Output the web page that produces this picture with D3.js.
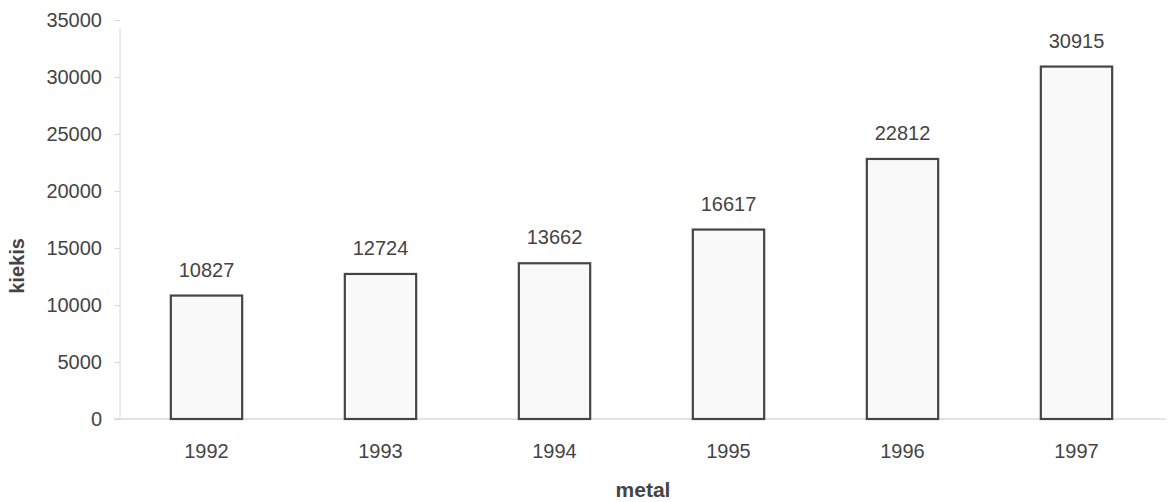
<!DOCTYPE html>
<html><head><meta charset="utf-8">
<script src="https://cdn.jsdelivr.net/npm/d3@7"></script>
<style>body{margin:0;background:#fff;} text{font-family:Arial,"Liberation Sans",sans-serif;}</style>
</head><body><svg id="c" width="1171" height="502"></svg>
<script>
const categories = ["1992","1993","1994","1995","1996","1997"];
const values = [10827,12724,13662,16617,22812,30915];
const yTicks = [0,5000,10000,15000,20000,25000,30000,35000];

const svg = d3.select("#c");
const FONT = "Arial, 'Liberation Sans', sans-serif";
const x = d3.scaleBand().domain(categories).range([119.5,1163.5]).paddingInner(0.59).paddingOuter(0.295);
const y = d3.scaleLinear().domain([0,35000]).range([419,20]);

// axes lines
svg.append("line").attr("x1",120).attr("x2",120).attr("y1",y(35000)+8).attr("y2",y(0)).attr("stroke","#d8d8d8");
svg.append("line").attr("x1",114).attr("x2",1166).attr("y1",y(0)).attr("y2",y(0)).attr("stroke","#c8c8c8");

const yAxis = d3.axisLeft(y).tickValues(yTicks).tickSize(6).tickPadding(12).tickFormat(d=>d);
const ga = svg.append("g").attr("transform","translate(120,0)").call(yAxis);
ga.select(".domain").remove();
ga.selectAll(".tick line").attr("stroke","#d8d8d8");
ga.selectAll(".tick text").attr("font-size",20).attr("fill","#444").attr("font-family",FONT);

const xAxis = d3.axisBottom(x).tickSize(0).tickPadding(25);
const gx = svg.append("g").attr("transform",`translate(0,${y(0)})`).call(xAxis);
gx.select(".domain").remove();
gx.selectAll(".tick text").attr("font-size",20).attr("fill","#444").attr("font-family",FONT);

svg.selectAll("rect.bar").data(values).enter().append("rect").attr("class","bar")
  .attr("x",(d,i)=>x(categories[i])).attr("width",x.bandwidth())
  .attr("y",d=>y(d)).attr("height",d=>y(0)-y(d))
  .attr("fill","#f9f9f9").attr("stroke","#454545").attr("stroke-width",2.2);

svg.selectAll("text.val").data(values).enter().append("text").attr("class","val")
  .attr("x",(d,i)=>x(categories[i])+x.bandwidth()/2).attr("y",d=>y(d)-19)
  .attr("text-anchor","middle").attr("font-size",20).attr("fill","#444").text(d=>d);

svg.append("text").attr("x",643).attr("y",497).attr("text-anchor","middle")
  .attr("font-size",21).attr("font-weight","bold").attr("fill","#444").text("metal");
svg.append("text").attr("transform","translate(24,266) rotate(-90)").attr("text-anchor","middle")
  .attr("font-size",20).attr("font-weight","bold").attr("fill","#444").text("kiekis");
</script></body></html>
